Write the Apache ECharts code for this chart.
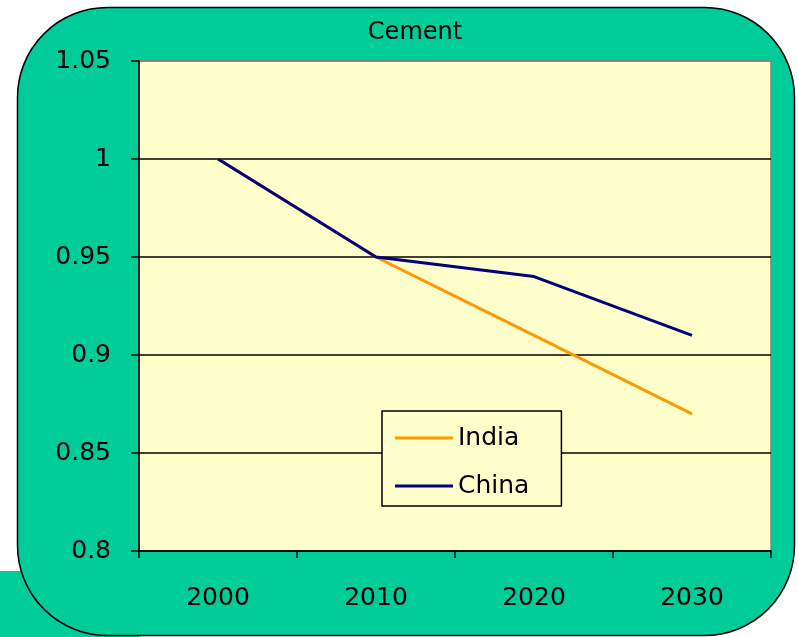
<!DOCTYPE html>
<html>
<head>
<meta charset="utf-8">
<script src="https://cdn.jsdelivr.net/npm/echarts@6/dist/echarts.min.js"></script>
<style>
html,body{margin:0;padding:0;background:#fff;}
#c{width:798px;height:637px;}
</style>
</head>
<body>
<div id="c"></div>
<script>
const titleText = 'Cement';
const categories = ['2000', '2010', '2020', '2030'];
const seriesNames = ['India', 'China'];
const indiaValues = [1.0, 0.95, 0.91, 0.87];
const chinaValues = [1.0, 0.95, 0.94, 0.91];
const yMin = 0.8, yMax = 1.05, yStep = 0.05;

const chart = echarts.init(document.getElementById('c'), null, {renderer: 'canvas'});
const font = 'DejaVu Sans';
chart.setOption({
  animation: false,
  backgroundColor: '#ffffff',
  graphic: [
    {type: 'rect', z: -10, shape: {x: 0, y: 571, width: 140, height: 66}, style: {fill: '#00CC99'}},
    {type: 'rect', z: -9, shape: {x: 17.5, y: 7.5, width: 777, height: 628, r: 90}, style: {fill: '#00CC99', stroke: '#000', lineWidth: 1.5}}
  ],
  title: {
    text: titleText, left: 410, top: 16, textAlign: 'center',
    textStyle: {fontFamily: font, fontSize: 24, fontWeight: 'normal', color: '#000'}
  },
  legend: {
    data: seriesNames, orient: 'vertical', left: 382, top: 411,
    padding: [12, 32, 5, 13], itemGap: 18, itemWidth: 58, itemHeight: 3, icon: 'rect',
    backgroundColor: '#FFFFCC', borderColor: '#000', borderWidth: 1.5, borderRadius: 0,
    textStyle: {fontFamily: font, fontSize: 25, color: '#000', lineHeight: 30}
  },
  grid: {
    left: 139, top: 61, right: 27, bottom: 86, show: true,
    backgroundColor: '#FFFFCC', borderColor: '#808080', borderWidth: 1.5
  },
  xAxis: {
    type: 'category', data: categories, boundaryGap: true,
    axisLine: {lineStyle: {color: '#000', width: 1.5}},
    axisTick: {show: true, length: 7, lineStyle: {color: '#000', width: 1.5}},
    axisLabel: {margin: 35, fontFamily: font, fontSize: 25, color: '#000'},
    splitLine: {show: false}
  },
  yAxis: {
    type: 'value', min: yMin, max: yMax, interval: yStep,
    axisLine: {show: true, lineStyle: {color: '#000', width: 1.5}},
    axisTick: {show: true, length: 8, lineStyle: {color: '#000', width: 1.5}},
    axisLabel: {margin: 28, fontFamily: font, fontSize: 25, color: '#000',
      formatter: v => String(Math.round(v * 100) / 100)},
    splitLine: {show: true, lineStyle: {color: ['#000', '#000', '#000', '#000', '#000', '#808080'], width: 1.5}}
  },
  series: [
    {name: seriesNames[0], type: 'line', data: indiaValues, symbol: 'none',
      lineStyle: {color: '#FF9900', width: 3}, itemStyle: {color: '#FF9900'}},
    {name: seriesNames[1], type: 'line', data: chinaValues, symbol: 'none',
      lineStyle: {color: '#000080', width: 3}, itemStyle: {color: '#000080'}}
  ]
});
</script>
</body>
</html>
